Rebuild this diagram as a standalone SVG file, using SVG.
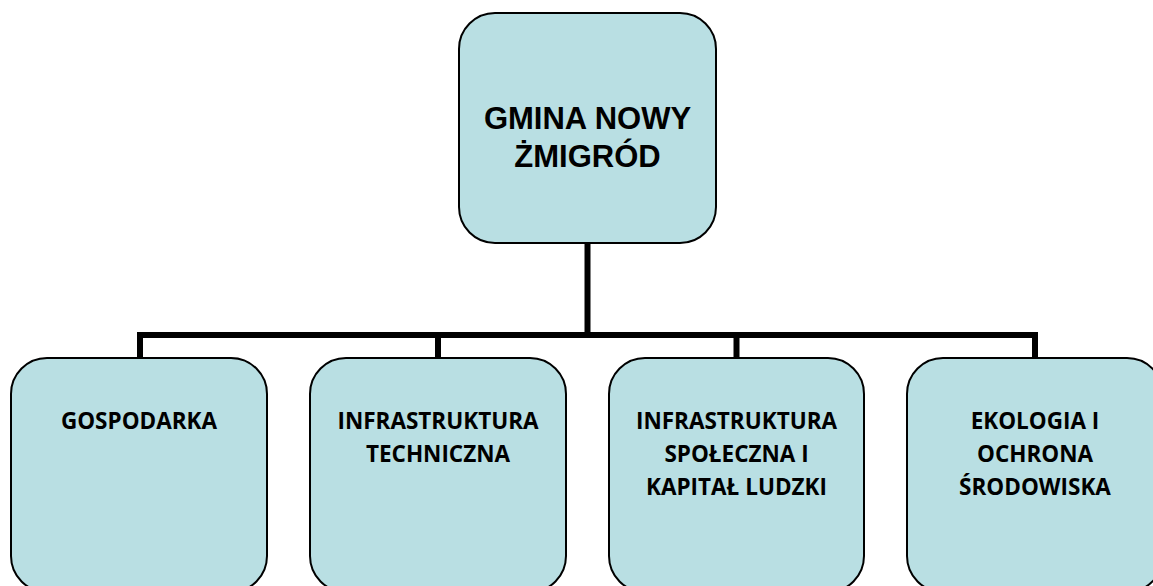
<svg xmlns="http://www.w3.org/2000/svg" width="1153" height="586" viewBox="0 0 1153 586">
<style>
.box{fill:#B9DFE3;stroke:#000;stroke-width:2}
.conn{fill:none;stroke:#000;stroke-width:6;stroke-linejoin:miter;stroke-linecap:butt}
.t1{font-family:"Liberation Sans",Arial,sans-serif;font-weight:bold;font-size:31px;fill:#000;text-anchor:middle}
.t2{font-family:"Open Sans","Liberation Sans",sans-serif;font-weight:bold;font-size:22.5px;fill:#000;text-anchor:middle}
</style>
<rect width="1153" height="586" fill="#fff"/>
<g id="connectors">
<path class="conn" d="M587.5 243 V335"/>
<path class="conn" d="M140 358 V335 H1035 V358"/>
<path class="conn" d="M438 335 V358"/>
<path class="conn" d="M736.5 335 V358"/>
</g>
<g id="root">
<rect class="box" x="459" y="13" width="257" height="230" rx="36" ry="36"/>
<text class="t1" x="587.5" y="129">GMINA NOWY</text>
<text class="t1" x="587.5" y="167">ŻMIGRÓD</text>
</g>
<g id="gospodarka">
<rect class="box" x="11" y="358" width="256" height="234" rx="36" ry="36"/>
<text class="t2" x="139" y="429">GOSPODARKA</text>
</g>
<g id="infra-tech">
<rect class="box" x="310" y="358" width="256" height="234" rx="36" ry="36"/>
<text class="t2" x="438" y="429">INFRASTRUKTURA</text>
<text class="t2" x="438" y="462">TECHNICZNA</text>
</g>
<g id="infra-spol">
<rect class="box" x="609" y="358" width="255" height="234" rx="36" ry="36"/>
<text class="t2" x="736.5" y="429">INFRASTRUKTURA</text>
<text class="t2" x="736.5" y="462">SPOŁECZNA I</text>
<text class="t2" x="736.5" y="495">KAPITAŁ LUDZKI</text>
</g>
<g id="ekologia">
<rect class="box" x="907" y="358" width="256" height="234" rx="36" ry="36"/>
<text class="t2" x="1035" y="429">EKOLOGIA I</text>
<text class="t2" x="1035" y="462">OCHRONA</text>
<text class="t2" x="1035" y="495">ŚRODOWISKA</text>
</g>
</svg>
